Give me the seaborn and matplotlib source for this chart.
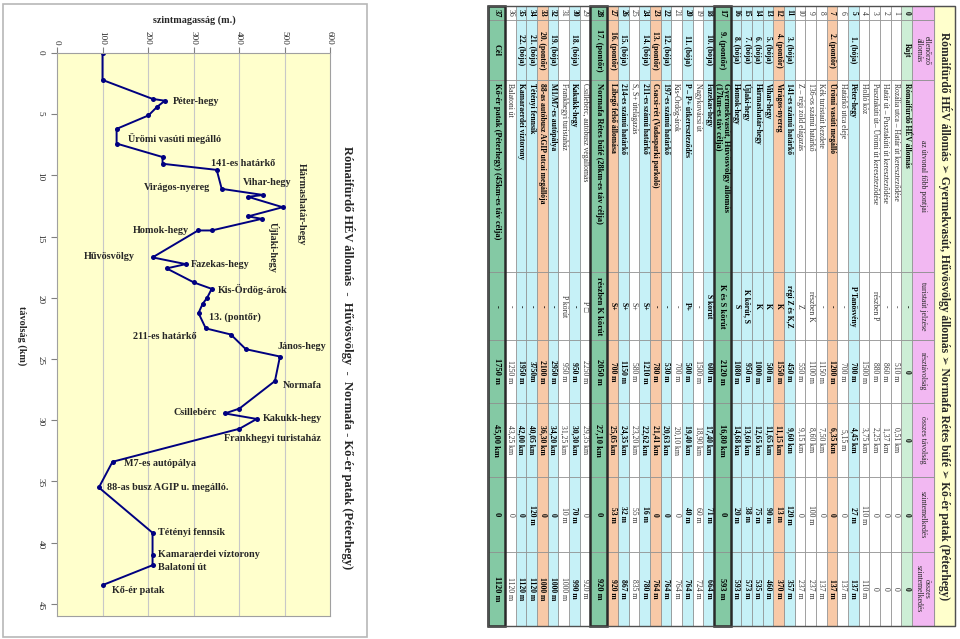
import numpy as np
import pandas as pd
import matplotlib
matplotlib.use("Agg")
import matplotlib.pyplot as plt
import seaborn as sns
from matplotlib.patches import Rectangle

# ---------------- chart data (distance along route, elevation) ----------------
distance_km = [0, 2.2, 3.75, 3.9, 4.4, 5.1, 6.2, 7.4, 8.5, 9.05,
               9.55, 11.1, 11.6, 11.75, 12.6, 13.35, 13.55, 14.5, 14.5, 16.7,
               17.25, 17.6, 18.75, 19.27, 20.0, 20.5, 21.25, 22.5, 23.0, 24.2,
               24.8, 26.8, 29.05, 29.45, 29.9, 30.7, 33.4, 35.5, 39.2, 41.0,
               41.85, 43.45]
elevation_m = [100, 100, 210, 237, 220, 201, 131, 131, 232, 232,
               351, 362, 453, 420, 496, 420, 450, 340, 310, 210,
               283, 241, 301, 340, 330, 320, 311, 327, 382, 415,
               490, 479, 401, 369, 439, 401, 122, 92, 210, 210,
               210, 102]

elev_ticks = [0, 100, 200, 300, 400, 500, 600]
dist_ticks = [0, 5, 10, 15, 20, 25, 30, 35, 40, 45]

# point labels: (text, elevation pos, distance pos)
point_labels = [
    ("Péter-hegy", 255, 4.0),
    ("Ürömi vasúti megálló", 156, 7.0),
    ("141-es határkő", 338, 9.0),
    ("Vihar-hegy", 409, 10.6),
    ("Virágos-nyereg", 191, 11.0),
    ("Homok-hegy", 167, 14.5),
    ("Hűvösvölgy", 59, 16.6),
    ("Fazekas-hegy", 295, 17.3),
    ("Kis-Ördög-árok", 354, 19.3),
    ("13. (pontőr)", 334, 21.55),
    ("211-es határkő", 167, 23.2),
    ("János-hegy", 484, 24.0),
    ("Normafa", 497, 27.2),
    ("Csillebérc", 257, 29.4),
    ("Kakukk-hegy", 453, 29.9),
    ("Frankhegyi turistaház", 367, 31.5),
    ("M7-es autópálya", 147, 33.5),
    ("88-as busz AGIP u. megálló.", 110, 35.5),
    ("Tétényi fennsík", 222, 39.2),
    ("Kamaraerdei víztorony", 222, 41.0),
    ("Balatoni út", 222, 42.0),
    ("Kő-ér patak", 121, 43.9),
]
vertical_labels = [
    ("Hármashatár-hegy", 538, 9.0),
    ("Újlaki-hegy", 475, 13.8),
]

# ---------------- table data ----------------
table_title = ("Rómaifürdő HÉV állomás \u27a2 Gyermekvasút, Hűvösvölgy állomás \u27a2 "
               "Normafa Rétes büfé \u27a2 Kő-ér patak (Péterhegy)")
headers = ["", "ellenőrző\nállomás", "az útvonal főbb pontjai", "turistaút jelzése",
           "résztávolság", "összes távolság", "szintemelkedés", "összes\nszintemelkedés"]
row_nums = [str(i) for i in range(38)]
stations = ["Rajt", "", "", "", "", "1. (bója)", "", "2. (pontőr)", "", "", "",
            "3. (bója)", "4. (pontőr)", "5. (bója)", "6. (bója)", "7. (bója)", "8. (bója)",
            "9. (pontőr)", "10. (bója)", "", "11. (bója)", "", "12. (bója)", "13. (pontőr)",
            "14. (bója)", "", "15. (bója)", "16. (pontőr)", "17. (pontőr)", "", "18. (bója)",
            "", "19. (bója)", "20. (pontőr)", "21. (bója)", "22. (bója)", "", "Cél"]
route_points = ["Rómaifürdő HÉV állomás", "Rozália utca – Határ út kereszteződése",
                "Határ út – Pusztakúti út kereszteződése", "Pusztakúti út– Ürömi út kereszteződése",
                "Holló köz", "Péter-hegy", "Határkő utca eleje", "Ürömi vasúti megálló",
                "Kék turistaút kezdete", "136-os számú határkő", "Z – régi zöld elágazás",
                "141-es számú határkő", "Virágos-nyereg", "Vihar-hegy", "Hármashatár-hegy",
                "Újlaki-hegy", "Homok-hegy",
                "Gyermekvasút, Hűvösvölgy állomás\n(17km-es táv célja)",
                "Fazekas-hegy", "Nagykovácsi út", "P – P+ útkereszteződés", "Kis-Ördög-árok",
                "197-es számú határkő", "Csacsi-rét (Vadasparki parkoló)", "211-es számú határkő",
                "S, S+ útelágazás", "214-es számú határkő", "Libegő felső állomása",
                "Normafa Rétes büfé (28km-es táv célja)", "Csillebérc, autóbusz végállomás",
                "Kakukk-hegy", "Frankhegyi turistaház", "M1/M7-es autópálya",
                "88-as autóbusz AGIP utcai megállója", "Tétényi fennsík", "Kamaraerdei víztorony",
                "Balatoni út", "Kő-ér patak (Péterhegy) (45km-es táv célja)"]
trail_marks = ["-", "-", "-", "részben P", "", "P Tanösvény", "-", "-", "-", "részben K", "Z",
               "régi Z és K,Z", "K", "K", "K", "K körút, S", "S", "K és S körút", "S körút", "-",
               "P+", "-", "-", "-", "S+", "S+", "S+", "S+", "részben K körút", "P \u25a1", "-",
               "P körút", "-", "-", "-", "-", "-", "-"]
part_dist = ["0", "510 m", "860 m", "880 m", "1500 m", "700 m", "700 m", "1200 m", "1150 m",
             "1100 m", "550 m", "450 m", "1550 m", "500 m", "1000 m", "950 m", "1080 m",
             "2120 m", "600 m", "1500 m", "500 m", "700 m", "530 m", "780 m", "1210 m", "580 m",
             "1150 m", "700 m", "2050 m", "2250 m", "950 m", "950 m", "2950 m", "2100 m",
             "3750m", "1950 m", "1250 m", "1750 m"]
total_dist = ["0", "0,51 km", "1,37 km", "2,25 km", "3,75 km", "4,45 km", "5,15 m", "6,35 km",
              "7,50 km", "8,60 km", "9,15 km", "9,60 km", "11,15 km", "11,65 km", "12,65 km",
              "13,60 km", "14,68 km", "16,80 km", "17,40 km", "18,90 km", "19,40 km",
              "20,10 km", "20,63 km", "21,41 km", "22,62 km", "23,20 km", "24,35 km",
              "25,05 km", "27,10 km", "29,35 km", "30,30 km", "31,25 km", "34,20 km",
              "36,30 km", "40,05 km", "42,00 km", "43,25 km", "45,00 km"]
climb = ["0", "0", "0", "0", "110 m", "27 m", "0", "0", "0", "100 m", "0", "120 m", "13 m",
         "90 m", "75 m", "38 m", "20 m", "0", "71 m", "60 m", "40 m", "0", "0", "0", "16 m",
         "55 m", "32 m", "53 m", "0", "0", "70 m", "10 m", "0", "0", "120 m", "0", "0", "0"]
total_climb = ["0", "0", "0", "0", "110 m", "137 m", "137 m", "137 m", "137 m", "237 m",
               "237 m", "357 m", "370 m", "460 m", "535 m", "573 m", "593 m", "593 m",
               "664 m", "724 m", "764 m", "764 m", "764 m", "764 m", "780 m", "835 m",
               "867 m", "920 m", "920 m", "920 m", "990 m", "1000 m", "1000 m", "1000 m",
               "1120 m", "1120 m", "1120 m", "1120 m"]

# ---------------- figure ----------------
sns.set_style("white")
plt.rcParams["font.family"] = ["Liberation Serif", "DejaVu Sans"]
W, H = 960, 639
fig = plt.figure(figsize=(9.6, 6.39), dpi=100)
fig.patch.set_facecolor("white")

def fx(x):
    return x / W

def fy(y):
    return 1 - y / H

# background axes in pixel coords for frame and table
tax = fig.add_axes([0, 0, 1, 1], zorder=0)
tax.set_xlim(0, W)
tax.set_ylim(H, 0)
tax.axis("off")

# chart frame
tax.add_patch(Rectangle((3, 4), 364, 633, fill=False, ec="#b8b8b8", lw=1.2))

# ---------------- chart ----------------
ax = fig.add_axes([fx(57), fy(616), (330 - 57) / W, (616 - 53) / H], zorder=2)
ax.set_facecolor("#ffffcc")
df = pd.DataFrame({"elev": elevation_m, "dist": distance_km})
sns.lineplot(data=df, x="elev", y="dist", sort=False, estimator=None, ax=ax,
             color="#000080", lw=1.4, marker="o", markersize=3.6, markeredgewidth=0)
ax.set_xlim(0, 600)
ax.set_ylim(46, 0)
ax.xaxis.tick_top()
ax.set_xticks(elev_ticks)
ax.set_yticks(dist_ticks)
ax.set_xticklabels([str(v) for v in elev_ticks])
ax.set_yticklabels([str(v) for v in dist_ticks])
ax.grid(False)
for v in elev_ticks[1:-1]:
    ax.axvline(v, color="#c8c8c8", lw=0.8, zorder=0)
ax.tick_params(axis="x", top=True, bottom=False, labeltop=True, labelbottom=False,
               direction="out", length=4, width=0.8, color="#808080",
               labelrotation=-90, pad=2, labelsize=6.6)
ax.tick_params(axis="y", left=True, direction="out", length=4, width=0.8,
               color="#808080", labelrotation=-90, pad=5, labelsize=6.6)
ax.set_xlabel("")
ax.set_ylabel("")
for s in ax.spines.values():
    s.set_color("#a0a0a0")
    s.set_linewidth(0.8)

for txt, ex, dy in point_labels:
    ax.text(ex, dy, txt, fontsize=7.3, fontweight="bold", ha="left", va="center")
for txt, ex, dy in vertical_labels:
    ax.text(ex, dy, txt, fontsize=7.3, fontweight="bold", ha="center", va="top",
            rotation=-90)

fig.text(fx(194), fy(20), "szintmagasság (m.)", fontsize=7.3, fontweight="bold",
         ha="center", va="center")
fig.text(fx(22), fy(336), "távolság (km)", fontsize=7.3, fontweight="bold",
         ha="center", va="center", rotation=-90)
fig.text(fx(348), fy(358),
         "Rómaifürdő HÉV állomás  -  Hűvösvölgy  -  Normafa - Kő-ér patak (Péterhegy)",
         fontsize=9, fontweight="bold", ha="center", va="center", rotation=-90)

# ---------------- table (rotated) ----------------
col_edges = [6, 20, 80, 272, 340, 403, 477, 552, 626]
x_title_r, x_title_l = 955, 934
x_head_l = 912
x_body_l = 488
n = len(row_nums)
targets = [("táv célja" in p) for p in route_points]
wt = 17.0
wn = ((x_head_l - x_body_l) - wt * sum(targets)) / (n - sum(targets))

GREEN_D = "#84c9a4"
GREEN_L = "#cdeed6"
CYAN = "#c6f1f7"
ORANGE = "#f8c9a7"
PINK = "#f2b8f2"
YELLOW = "#ffffcc"

# title row
tax.add_patch(Rectangle((x_title_l, col_edges[0]), x_title_r - x_title_l,
                        col_edges[-1] - col_edges[0], fc=YELLOW, ec="#909090", lw=0.8))
tax.text((x_title_l + x_title_r) / 2, (col_edges[0] + col_edges[-1]) / 2, table_title,
         rotation=-90, ha="center", va="center", fontsize=8.3, fontweight="bold")
# header row
for c in range(8):
    y0, y1 = col_edges[c], col_edges[c + 1]
    tax.add_patch(Rectangle((x_head_l, y0), x_title_l - x_head_l, y1 - y0,
                            fc=PINK, ec="#909090", lw=0.6))
    tax.text((x_head_l + x_title_l) / 2, (y0 + y1) / 2, headers[c], rotation=-90,
             ha="center", va="center", fontsize=5.6, linespacing=1.0)

# body rows
xr = x_head_l
columns = [row_nums, stations, route_points, trail_marks, part_dist, total_dist,
           climb, total_climb]
for i in range(n):
    w = wt if targets[i] else wn
    xl = xr - w
    if targets[i]:
        fc, bold = GREEN_D, True
    elif stations[i] == "Rajt":
        fc, bold = GREEN_L, True
    elif "bója" in stations[i]:
        fc, bold = CYAN, True
    elif "pontőr" in stations[i]:
        fc, bold = ORANGE, True
    else:
        fc, bold = "white", False
    fw = "bold" if bold else "normal"
    tcol = "black" if bold else "#333333"
    fs = 6.0 if targets[i] else 5.5
    xc = (xl + xr) / 2
    for c in range(8):
        y0, y1 = col_edges[c], col_edges[c + 1]
        tax.add_patch(Rectangle((xl, y0), w, y1 - y0, fc=fc, ec="#8c8c8c", lw=0.5))
        val = columns[c][i]
        if not val:
            continue
        if c == 2:
            tax.text(xc, y0 + 3, val, rotation=-90, ha="center", va="top",
                     fontsize=fs, fontweight=fw, color=tcol, multialignment="left",
                     linespacing=1.0)
        else:
            tax.text(xc, (y0 + y1) / 2, val, rotation=-90, ha="center", va="center",
                     fontsize=fs, fontweight=fw, color=tcol)
    if targets[i]:
        tax.add_patch(Rectangle((xl, col_edges[0]), w, col_edges[-1] - col_edges[0],
                                fill=False, ec="#2a2a2a", lw=1.8, zorder=5))
    xr = xl

tax.add_patch(Rectangle((x_body_l, col_edges[0]), x_title_r - x_body_l,
                        col_edges[-1] - col_edges[0], fill=False, ec="#505050", lw=1.0,
                        zorder=6))

fig.savefig("out.png", dpi=100, facecolor="white")
